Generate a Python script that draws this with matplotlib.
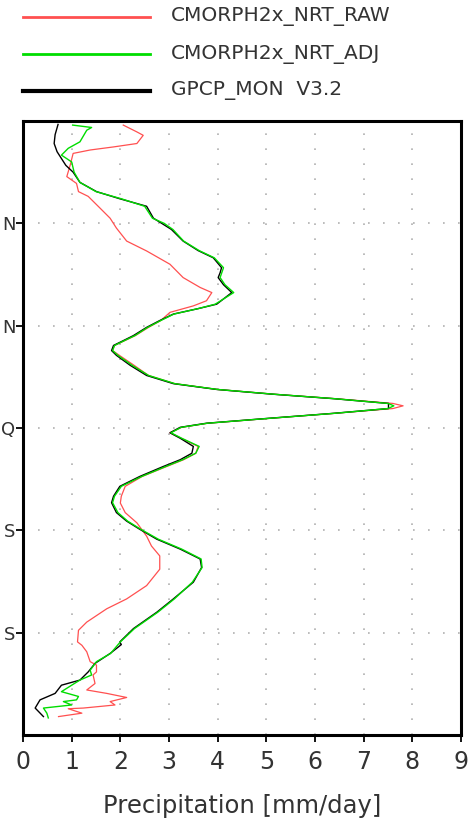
import matplotlib
matplotlib.use("Agg")
import matplotlib.pyplot as plt
from matplotlib.lines import Line2D

# ---------------- data ----------------
series_names = ["CMORPH2x_NRT_RAW", "CMORPH2x_NRT_ADJ", "GPCP_MON  V3.2"]

lat_gpcp = [89, 86, 83.4, 81, 79, 77, 75, 72, 69.3, 67.2, 65, 63, 61.5, 60, 58.2, 54.8, 52,
            49.9, 47, 45.5, 44.1, 42, 39.7, 36.3, 35, 33.4, 31.5, 29.5, 27.1, 25.6, 24.2,
            22.7, 21.3, 18.4, 15.4, 13, 11.3, 9.9, 8.6, 7.2, 5.7, 4.3, 2.8, 1.4, 0.2, -1.4,
            -3, -5.4, -7.4, -9.3, -11.3, -14.2, -17.1, -20, -21.9, -24.8, -27.3, -29.7,
            -32.6, -35.5, -38.4, -40.9, -45.2, -50.1, -54, -58.8, -62.7, -63.5, -66.1, -69,
            -71.5, -73.9, -75.4, -77.8, -79.7, -82.1, -84.6]
val_gpcp = [0.72, 0.66, 0.64, 0.70, 0.79, 0.88, 1.03, 1.17, 1.51, 1.99, 2.54, 2.62, 2.68, 2.85,
            3.05, 3.29, 3.60, 3.91, 4.08, 4.05, 4.01, 4.12, 4.29, 3.98, 3.60, 3.09, 2.81, 2.54,
            2.27, 2.06, 1.86, 1.82, 1.92, 2.20, 2.54, 3.09, 3.98, 5.14, 6.38, 7.51, 7.51, 6.38,
            5.01, 3.77, 3.23, 3.02, 3.23, 3.50, 3.47, 3.23, 2.88, 2.40, 1.99, 1.86, 1.82, 1.92,
            2.13, 2.40, 2.75, 3.23, 3.64, 3.67, 3.50, 3.09, 2.75, 2.27, 1.99, 2.02, 1.79, 1.48,
            1.34, 1.17, 0.79, 0.66, 0.35, 0.25, 0.42]

lat_adj = [88.8, 88.1, 87.3, 83.9, 82, 80, 78, 75, 72, 69.3, 67.2, 65, 61.5, 60, 58.2, 54.8,
           52, 49.9, 47, 44.1, 42, 39.7, 36.3, 35, 33.4, 31.5, 29.5, 27.1, 25.6, 24.2, 22.7,
           21.3, 18.4, 15.4, 13, 11.3, 9.9, 8.6, 7.2, 6.5, 5.7, 4.3, 2.8, 1.4, 0.2, -1.4, -3,
           -5.4, -7.4, -9.3, -11.3, -14.2, -17.1, -20, -21.9, -24.8, -27.3, -29.7, -32.6,
           -35.5, -38.4, -40.9, -45.2, -50.1, -54, -58.8, -62.7, -66.1, -68.5, -71, -72.4,
           -73.9, -75.4, -77.3, -78.7, -79.7, -80.2, -81.2, -82.1, -83.6, -85]
val_adj = [1.02, 1.41, 1.31, 1.17, 0.93, 0.79, 1.00, 1.05, 1.17, 1.50, 2.02, 2.50, 2.66, 2.90,
           3.08, 3.30, 3.62, 3.93, 4.12, 4.05, 4.15, 4.33, 3.95, 3.60, 3.10, 2.83, 2.56, 2.30,
           2.08, 1.88, 1.84, 1.95, 2.24, 2.58, 3.12, 4.00, 5.16, 6.40, 7.50, 7.62, 7.50, 6.40,
           5.03, 3.79, 3.25, 3.04, 3.26, 3.62, 3.55, 3.28, 2.93, 2.44, 2.02, 1.88, 1.84, 1.95,
           2.15, 2.42, 2.78, 3.26, 3.66, 3.68, 3.48, 3.11, 2.77, 2.29, 2.00, 1.80, 1.51, 1.38,
           1.41, 1.17, 1.00, 0.79, 1.14, 1.10, 0.83, 1.00, 0.42, 0.49, 0.52]

lat_raw = [88.8, 86.8, 85.8, 83.4, 82.4, 81.5, 80.5, 77.1, 73.7, 71.7, 69.3, 67.9, 64.5, 61.5,
           58.6, 54.8, 51.9, 48, 44.1, 41.2, 39.7, 37.3, 35.8, 33.9, 31.5, 29.5, 27.1, 25.6,
           24.2, 22.7, 21.3, 18.4, 15.4, 13, 11.3, 9.9, 8.6, 7.2, 6.5, 5.7, 4.3, 2.8, 1.4,
           0.2, -1.4, -3, -5.4, -7.4, -9.3, -11.3, -14.2, -17.1, -20, -22, -24.8, -27.8,
           -31.7, -34.6, -37.5, -41.4, -46.2, -50.1, -53, -56.9, -59.3, -62.7, -63.7, -65.6,
           -68.5, -69.5, -71.5, -72.4, -74.9, -76.8, -77.8, -79, -80.2, -81.2, -82.1, -82.3,
           -83.6, -84.6]
val_raw = [2.06, 2.34, 2.47, 2.34, 1.86, 1.38, 1.03, 0.97, 0.90, 1.10, 1.14, 1.34, 1.58, 1.79,
           1.92, 2.13, 2.54, 3.02, 3.29, 3.64, 3.88, 3.77, 3.50, 3.02, 2.83, 2.58, 2.31, 2.09,
           1.88, 1.84, 1.98, 2.28, 2.58, 3.12, 4.00, 5.16, 6.42, 7.60, 7.81, 7.60, 6.40, 5.05,
           3.80, 3.26, 3.02, 3.25, 3.60, 3.55, 3.30, 2.95, 2.45, 2.10, 2.02, 2.00, 2.10, 2.34,
           2.54, 2.64, 2.81, 2.81, 2.54, 2.13, 1.72, 1.31, 1.14, 1.12, 1.21, 1.31, 1.38, 1.51,
           1.51, 1.44, 1.48, 1.31, 1.72, 2.13, 1.79, 1.89, 1.24, 0.93, 1.21, 0.73]

ytick_vals = [60, 30, 0, -30, -60]
ytick_labels = ["N", "N", "Q", "S", "S"]
xtick_vals = [0, 1, 2, 3, 4, 5, 6, 7, 8, 9]

colors = ["#ff5050", "#00dd00", "#000000"]

# ---------------- figure ----------------
W, H = 471, 818
fig = plt.figure(figsize=(W / 100, H / 100), dpi=100)
ax = fig.add_axes([23 / W, 1 - 735 / H, (461 - 23) / W, (735 - 121) / H])

ax.plot(val_raw, lat_raw, color=colors[0], lw=0.9, zorder=3)
ax.plot(val_gpcp, lat_gpcp, color=colors[2], lw=1.0, zorder=4)
ax.plot(val_adj, lat_adj, color=colors[1], lw=1.0, zorder=5)

ax.set_xlim(0, 9)
ax.set_ylim(-90, 90)
ax.set_xticks(xtick_vals)
ax.set_xticklabels([str(v) for v in xtick_vals])
ax.set_yticks(ytick_vals)
ax.set_yticklabels(ytick_labels)

for v in xtick_vals[1:-1]:
    ax.axvline(v, color="#b0b0b0", lw=1.2, ls=(0, (1, 8)), zorder=1)
for v in ytick_vals:
    ax.axhline(v, color="#b0b0b0", lw=1.2, ls=(0, (1, 8)), zorder=1)

for s in ax.spines.values():
    s.set_linewidth(2.2)
ax.tick_params(axis="x", direction="out", length=5, width=1.3, colors="black",
               labelcolor="#333333", labelsize=17, pad=6)
ax.tick_params(axis="y", direction="out", length=5, width=1.3, colors="black",
               labelcolor="#333333", labelsize=13, pad=0.5)
ax.set_xlabel("Precipitation [mm/day]", fontsize=17.5, color="#333333", labelpad=14)

# legend (manual, figure coords)
leg_y = [17, 54, 91]
leg_lw = [2.0, 2.0, 3.0]
for name, c, yp, lw in zip(series_names, colors, leg_y, leg_lw):
    yf = 1 - yp / H
    fig.add_artist(Line2D([23 / W, 150 / W], [yf, yf], color=c, lw=lw))
    fig.text(171 / W, yf, name, fontsize=14.5, color="#333333", va="center", ha="left")

fig.savefig("out.png", dpi=100)
